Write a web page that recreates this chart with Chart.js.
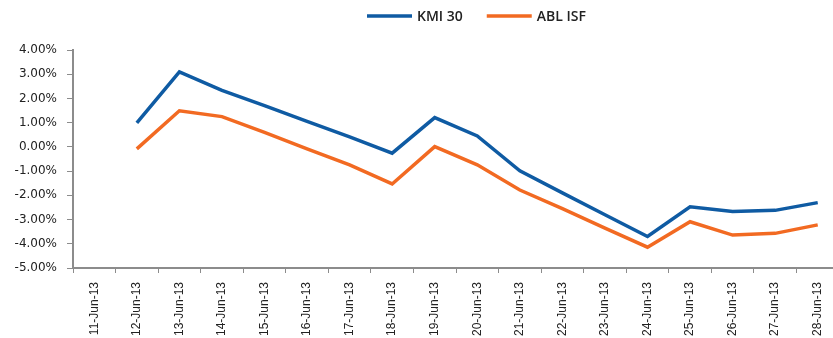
<!DOCTYPE html>
<html>
<head>
<meta charset="utf-8">
<script src="https://cdn.jsdelivr.net/npm/chart.js@4/dist/chart.umd.min.js"></script>
<style>
html,body{margin:0;padding:0;background:#fff;overflow:hidden;}
#wrap{width:845px;height:338px;}
</style>
</head>
<body>
<div id="wrap"><canvas id="c" width="845" height="338"></canvas></div>
<script>
const categories = ["11-Jun-13","12-Jun-13","13-Jun-13","14-Jun-13","15-Jun-13","16-Jun-13","17-Jun-13","18-Jun-13","19-Jun-13","20-Jun-13","21-Jun-13","22-Jun-13","23-Jun-13","24-Jun-13","25-Jun-13","26-Jun-13","27-Jun-13","28-Jun-13"];
const kmi30 = [null, 0.99, 3.10, 2.33, 1.70, 1.05, 0.41, -0.26, 1.21, 0.45, -0.99, -1.90, -2.80, -3.70, -2.47, -2.67, -2.62, -2.30];
const ablIsf = [null, -0.08, 1.49, 1.25, 0.60, -0.08, -0.74, -1.53, 0.01, -0.74, -1.78, -2.55, -3.35, -4.14, -3.09, -3.64, -3.57, -3.22];
const seriesNames = ["KMI 30", "ABL ISF"];
const seriesColors = ["#0F5BA3", "#F26A22"];
const yMin = -5, yMax = 4, yStep = 1;

const axisGray = "#8C8C8C";

const legendPlugin = {
  id: 'customLegend',
  afterDraw(chart) {
    const ctx = chart.ctx;
    ctx.save();
    ctx.font = "600 14px 'Open Sans'";
    ctx.textBaseline = 'middle';
    ctx.fillStyle = '#222';
    const y = 16;
    let x = 367;
    chart.data.datasets.forEach((ds, i) => {
      ctx.strokeStyle = ds.borderColor;
      ctx.lineWidth = 3.5;
      ctx.beginPath();
      ctx.moveTo(x, y);
      ctx.lineTo(x + 45, y);
      ctx.stroke();
      ctx.fillText(ds.label, x + 50, y + 1);
      x += 50 + ctx.measureText(ds.label).width + 24;
    });
    ctx.restore();
  }
};

new Chart(document.getElementById('c'), {
  type: 'line',
  data: {
    labels: categories,
    datasets: [
      {label: seriesNames[0], data: kmi30, borderColor: seriesColors[0], backgroundColor: seriesColors[0], borderWidth: 3.5, pointRadius: 0, tension: 0},
      {label: seriesNames[1], data: ablIsf, borderColor: seriesColors[1], backgroundColor: seriesColors[1], borderWidth: 3.5, pointRadius: 0, tension: 0}
    ]
  },
  options: {
    responsive: false,
    animation: false,
    layout: {padding: {top: 50, left: 0, right: 6, bottom: 0}},
    plugins: {legend: {display: false}, tooltip: {enabled: false}},
    scales: {
      x: {
        offset: true,
        grid: {offset: true, drawOnChartArea: false, drawTicks: true, tickLength: 5, color: axisGray, lineWidth: 1},
        border: {color: axisGray, width: 2},
        ticks: {minRotation: 90, maxRotation: 90, autoSkip: false, padding: 9, color: '#222', font: {family: "'Liberation Sans', sans-serif", size: 12}},
        afterFit(s) { s.height = 70; }
      },
      y: {
        min: yMin, max: yMax,
        grid: {drawOnChartArea: false, drawTicks: true, tickLength: 6, color: axisGray, lineWidth: 1},
        border: {color: axisGray, width: 2},
        ticks: {stepSize: yStep, padding: 10, color: '#222', font: {family: "'DejaVu Sans'", size: 12}, callback: v => v.toFixed(2) + '%'},
        afterFit(s) { s.width = 73; }
      }
    }
  },
  plugins: [legendPlugin]
});
</script>
</body>
</html>
